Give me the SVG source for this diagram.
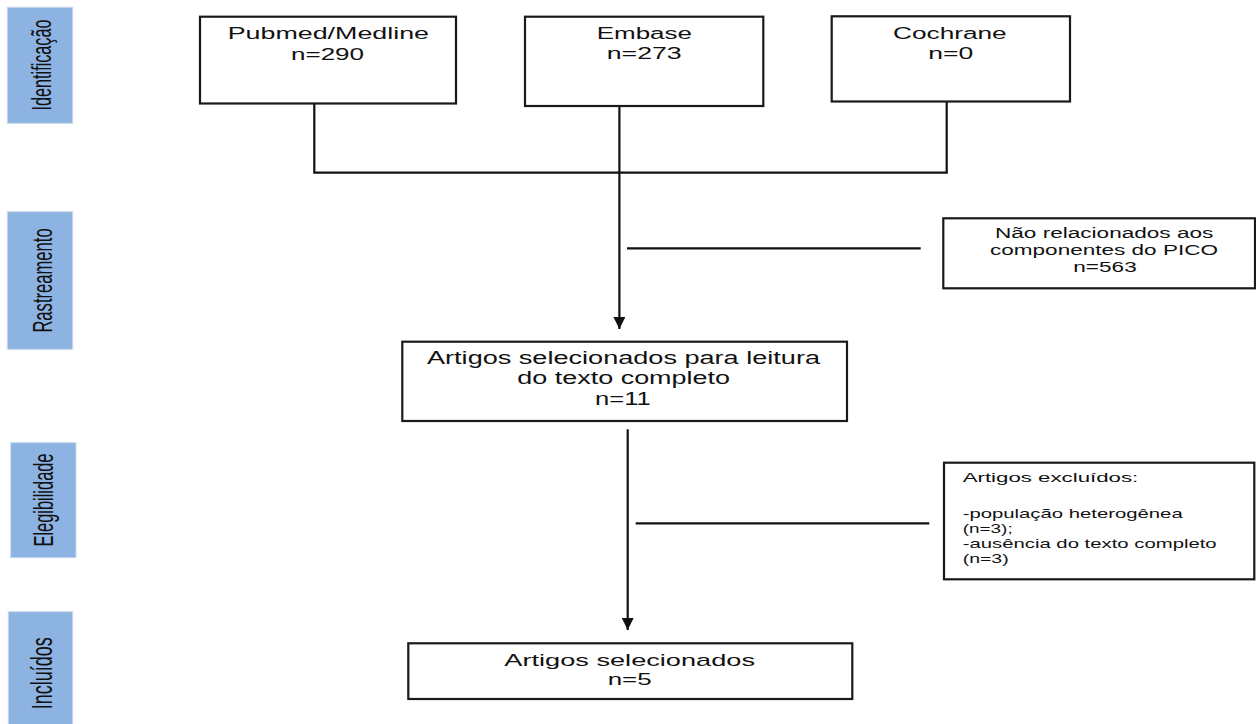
<svg xmlns="http://www.w3.org/2000/svg" width="1256" height="724" viewBox="0 0 1256 724">
<style>
  .bg{fill:#ffffff}
  .stage{fill:#8db3e2;stroke:#c9d9ee;stroke-width:1}
  .stagetxt{font-family:"Liberation Sans",Arial,sans-serif;fill:#111;text-anchor:middle}
  .box{fill:#ffffff;stroke:#1a1a1a;stroke-width:2.2}
  .t{font-family:"Liberation Sans",Arial,sans-serif;fill:#111}
  .f16{font-size:16px}
  .f17{font-size:17px}
  .f175{font-size:17.5px}
  .f14{font-size:14px}
  .f135{font-size:13.5px}
  .conn{fill:none;stroke:#111;stroke-width:2.2}
</style>
<defs>
  <marker id="arr" markerUnits="userSpaceOnUse" markerWidth="16" markerHeight="12" refX="14" refY="7" orient="auto" viewBox="0 0 16 14">
    <path d="M0,0 L14,7 L0,14 Z" fill="#111"/>
  </marker>
</defs>
<rect class="bg" x="0" y="0" width="1256" height="724"/>

<g id="stage-identificacao">
  <rect class="stage" x="7.3" y="7.3" width="65.4" height="116"/>
  <text class="stagetxt" transform="translate(51,65) rotate(-90) scale(1,1.75)" x="0" y="0" font-size="16.2">Identificação</text>
</g>
<g id="stage-rastreamento">
  <rect class="stage" x="7.3" y="211.7" width="65.4" height="137.6"/>
  <text class="stagetxt" transform="translate(51.7,280.5) rotate(-90) scale(1,1.7)" x="0" y="0" font-size="16.6">Rastreamento</text>
</g>
<g id="stage-elegibilidade">
  <rect class="stage" x="10.7" y="442.7" width="65.3" height="115"/>
  <text class="stagetxt" transform="translate(53.3,500) rotate(-90) scale(1,1.7)" x="0" y="0" font-size="16.4">Elegibilidade</text>
</g>
<g id="stage-incluidos">
  <rect class="stage" x="8.3" y="611.7" width="64.4" height="113"/>
  <text class="stagetxt" transform="translate(51.7,673.3) rotate(-90) scale(1,1.6)" x="0" y="0" font-size="18">Incluídos</text>
</g>

<g id="connectors">
  <path class="conn" d="M314.3,103.5 V172.7 H946.7 V101.5"/>
  <path class="conn" d="M619.4,106 V329" marker-end="url(#arr)"/>
  <path class="conn" d="M627,248.3 H920.7"/>
  <path class="conn" d="M627.7,429.3 V630" marker-end="url(#arr)"/>
  <path class="conn" d="M635.7,523.3 H929.3"/>
</g>

<g id="node-pubmed">
  <rect class="box" x="200" y="16.7" width="256" height="86.8"/>
  <text class="t f16" x="227.7" y="39" textLength="201.3" lengthAdjust="spacingAndGlyphs">Pubmed/Medline</text>
  <text class="t f16" x="291" y="59.5" textLength="73" lengthAdjust="spacingAndGlyphs">n=290</text>
</g>
<g id="node-embase">
  <rect class="box" x="525" y="16.7" width="238.3" height="89.3"/>
  <text class="t f16" x="596.7" y="39.3" textLength="95.3" lengthAdjust="spacingAndGlyphs">Embase</text>
  <text class="t f16" x="606.7" y="59.3" textLength="75" lengthAdjust="spacingAndGlyphs">n=273</text>
</g>
<g id="node-cochrane">
  <rect class="box" x="831.7" y="16.3" width="238.3" height="85.2"/>
  <text class="t f16" x="893" y="39.3" textLength="113.7" lengthAdjust="spacingAndGlyphs">Cochrane</text>
  <text class="t f16" x="928.3" y="59.3" textLength="45" lengthAdjust="spacingAndGlyphs">n=0</text>
</g>
<g id="node-nao-relacionados">
  <rect class="box" x="943.3" y="218.3" width="311.7" height="70"/>
  <text class="t f14" x="995" y="238.3" textLength="218.3" lengthAdjust="spacingAndGlyphs">Não relacionados aos</text>
  <text class="t f14" x="990" y="255" textLength="228" lengthAdjust="spacingAndGlyphs">componentes do PICO</text>
  <text class="t f14" x="1073.3" y="271.7" textLength="63.4" lengthAdjust="spacingAndGlyphs">n=563</text>
</g>
<g id="node-artigos-leitura">
  <rect class="box" x="402.3" y="341.7" width="444.7" height="79.3"/>
  <text class="t f175" x="427" y="364.3" textLength="393" lengthAdjust="spacingAndGlyphs">Artigos selecionados para leitura</text>
  <text class="t f175" x="517.3" y="384" textLength="212.7" lengthAdjust="spacingAndGlyphs">do texto completo</text>
  <text class="t f175" x="595" y="405" textLength="55.7" lengthAdjust="spacingAndGlyphs">n=11</text>
</g>
<g id="node-excluidos">
  <rect class="box" x="944" y="462.7" width="310.3" height="116.6"/>
  <text class="t f135" x="962.7" y="481.7" textLength="175.6" lengthAdjust="spacingAndGlyphs">Artigos excluídos:</text>
  <text class="t f135" x="962.7" y="518.3" textLength="220" lengthAdjust="spacingAndGlyphs">-população heterogênea</text>
  <text class="t f135" x="962.7" y="533.3" textLength="50" lengthAdjust="spacingAndGlyphs">(n=3);</text>
  <text class="t f135" x="962.7" y="548.3" textLength="254" lengthAdjust="spacingAndGlyphs">-ausência do texto completo</text>
  <text class="t f135" x="962.7" y="562.7" textLength="46" lengthAdjust="spacingAndGlyphs">(n=3)</text>
</g>
<g id="node-artigos-selecionados">
  <rect class="box" x="408.3" y="643.3" width="444" height="55.7"/>
  <text class="t f17" x="504.3" y="665.7" textLength="250.7" lengthAdjust="spacingAndGlyphs">Artigos selecionados</text>
  <text class="t f17" x="607.7" y="685" textLength="44" lengthAdjust="spacingAndGlyphs">n=5</text>
</g>
</svg>
